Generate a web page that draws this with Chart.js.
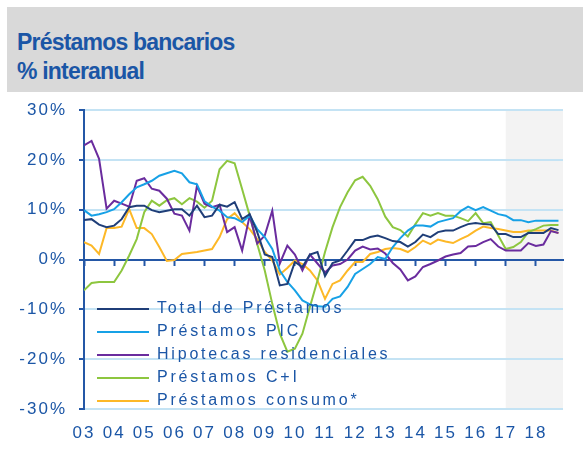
<!DOCTYPE html>
<html>
<head>
<meta charset="utf-8">
<script src="https://cdn.jsdelivr.net/npm/chart.js@4.4.1/dist/chart.umd.min.js"></script>
<style>
  body { margin: 0; background: #fff; }
  #wrap { position: relative; width: 583px; height: 456px; overflow: hidden; }
  #head { position: absolute; left: 7px; top: 7px; width: 576px; height: 85px; background: #d9d9d9; }
  .t { position: absolute; left: 17px; font: bold 23px Arial, "Liberation Sans", sans-serif; line-height: 23px;
       letter-spacing: -0.8px; color: #1b56a6; white-space: nowrap; }
  canvas { position: absolute; left: 0; top: 0; }
</style>
</head>
<body>
<div id="wrap">
  <div id="head"></div>
  <div class="t" style="top:31px">Préstamos bancarios</div>
  <div class="t" style="top:60px">% interanual</div>
  <canvas id="chart" width="583" height="456"></canvas>
</div>
<script>
// Quarterly series, first point 2003 Q1
const startYear = 2003;
const yearTicks = [2003, 2004, 2005, 2006, 2007, 2008, 2009, 2010, 2011, 2012, 2013, 2014, 2015, 2016, 2017, 2018];
const forecastFrom = 2017;

const seriesNames = ['Total de Préstamos', 'Préstamos PIC', 'Hipotecas residenciales', 'Préstamos C+I', 'Préstamos consumo*'];
const seriesColors = ['#1f3e78', '#17a1e6', '#6a2c9e', '#8dc63f', '#fdb827'];

const totalPrestamos = [
  7.9, 8.1, 7.0, 6.5, 6.8, 8.1, 10.5, 10.8, 10.8, 9.9, 9.5, 9.8, 10.1, 10.1, 8.8, 10.8,
  8.5, 8.8, 11.0, 10.6, 11.5, 8.1, 9.1, 5.5, 1.0, 0.5, -5.2, -4.9, -0.5, -1.5, 1.0, 1.5,
  -3.3, -0.7, -0.2, 1.8, 3.9, 3.9, 4.5, 4.8, 4.3, 3.7, 3.5, 2.6, 3.5, 5.0, 4.5, 5.5,
  5.8, 5.8, 6.5, 7.1, 7.3, 7.1, 7.0, 5.1, 5.1, 4.5, 4.5, 5.3, 5.3, 5.3, 6.3, 5.9
];
const prestamosPIC = [
  9.9, 8.8, 9.1, 9.5, 10.1, 11.5, 13.1, 14.5, 15.1, 15.8, 16.8, 17.3, 17.8, 17.3, 15.5, 15.1,
  11.7, 10.6, 9.8, 8.5, 8.3, 7.5, 8.8, 6.1, 4.5, 2.1, -2.2, -4.5, -6.2, -8.2, -9.0, -9.4,
  -9.5, -7.9, -7.4, -5.5, -2.9, -1.9, -0.9, 0.5, 0.1, 2.5, 4.3, 5.8, 6.8, 6.8, 6.6, 7.5,
  7.9, 8.3, 9.7, 10.6, 9.9, 10.5, 9.8, 9.1, 8.8, 7.9, 7.9, 7.5, 7.8, 7.8, 7.8, 7.8
];
const hipotecas = [
  22.9, 23.8, 20.2, 10.2, 11.8, 11.2, 10.6, 15.8, 16.3, 14.2, 13.8, 12.2, 9.2, 8.8, 5.8, 14.8,
  11.2, 10.5, 11.0, 5.5, 6.5, 1.8, 8.8, 3.2, 4.8, 9.8, -0.8, 2.8, 1.0, -2.2, 1.0, -0.8,
  -2.6, -1.2, -0.9, 0.0, 1.8, 2.6, 2.0, 2.2, 1.2, -0.7, -2.0, -4.2, -3.4, -1.5, -0.9, -0.2,
  0.6, 1.0, 1.3, 2.6, 2.7, 3.5, 4.1, 2.6, 1.8, 1.8, 1.8, 3.3, 2.7, 3.0, 5.7, 5.3
];
const prestamosCI = [
  -6.2, -4.7, -4.5, -4.5, -4.5, -2.2, 0.8, 4.1, 9.5, 11.8, 10.8, 11.9, 12.3, 11.1, 12.3, 11.6,
  10.4, 11.8, 18.1, 19.8, 19.3, 14.1, 8.8, 3.1, -2.2, -8.9, -14.9, -18.5, -17.9, -14.9, -9.5, -4.2,
  1.5, 6.5, 10.5, 13.5, 15.9, 16.6, 14.8, 12.1, 8.6, 6.5, 5.9, 4.6, 7.1, 9.3, 8.8, 9.3,
  8.8, 8.8, 8.3, 7.7, 9.3, 7.3, 7.5, 4.8, 2.1, 2.5, 3.5, 5.5, 6.1, 6.8, 6.9, 6.9
];
const prestamosConsumo = [
  3.5, 2.8, 1.1, 6.3, 6.3, 6.6, 10.1, 6.3, 6.3, 5.1, 2.5, -0.3, -0.1, 1.1, 1.3, 1.5,
  1.8, 2.1, 4.5, 8.1, 9.3, 7.5, 6.1, 4.1, 1.5, -0.2, -3.0, -1.7, -0.2, -0.9, -2.2, -4.2,
  -7.9, -4.9, -4.2, -2.2, -0.5, -0.5, 1.1, 1.5, 2.1, 2.3, 2.1, 1.5, 2.5, 3.8, 3.1, 4.0,
  3.6, 3.3, 4.1, 4.8, 5.8, 6.6, 6.3, 6.1, 5.8, 5.5, 5.5, 5.8, 5.8, 5.8, 5.8, 5.3
];

const allSeries = [totalPrestamos, prestamosPIC, hipotecas, prestamosCI, prestamosConsumo];

const axisBlue = '#2457a6';
const textBlue = '#1b56a6';
const gridBlue = '#c4e3f4';

function toPoints(values) {
  return values.map((v, i) => ({ x: startYear + i / 4, y: v }));
}

// grey band behind the last two years, legend moved inside the plot
const shadePlugin = {
  id: 'shade',
  beforeDraw(chart) {
    const { ctx, chartArea, scales } = chart;
    const x0 = scales.x.getPixelForValue(forecastFrom);
    ctx.save();
    ctx.fillStyle = '#f3f3f3';
    ctx.fillRect(x0, chartArea.top, chartArea.right - x0, chartArea.bottom - chartArea.top);
    ctx.restore();
    ctx.letterSpacing = '2px';
  },
  afterLayout(chart) {
    const lg = chart.legend;
    lg.left = 90; lg.top = 294;
    lg.right = chart.chartArea.right; lg.bottom = lg.top + 160;
    lg.width = lg.right - lg.left; lg.height = lg.bottom - lg.top;
    lg.adjustHitBoxes();
  },
  afterInit(chart) {
    const lg = chart.legend;
    const orig = lg.draw.bind(lg);
    lg.draw = function () {
      const ctx = this.ctx;
      ctx.save();
      ctx.letterSpacing = '2.8px';
      orig();
      ctx.restore();
    };
    // text goes over the lines, as in the source
    lg._layers = () => [{ z: 1, draw: () => lg.draw() }];
  },
  afterDraw(chart) {
    chart.ctx.letterSpacing = '0px';
  }
};

new Chart(document.getElementById('chart'), {
  type: 'line',
  data: {
    datasets: allSeries.map((vals, k) => ({
      label: seriesNames[k],
      data: toPoints(vals),
      borderColor: seriesColors[k],
      backgroundColor: seriesColors[k],
      borderWidth: 2,
      pointRadius: 0,
      tension: 0,
      fill: false
    }))
  },
  options: {
    responsive: false,
    devicePixelRatio: 1,
    animation: false,
    layout: { padding: { left: 0, right: 20, top: 110, bottom: 0 } },
    plugins: {
      title: { display: false },
      tooltip: { enabled: false },
      legend: {
        position: 'chartArea',
        align: 'start',
        labels: {
          usePointStyle: true,
          pointStyle: 'line',
          pointStyleWidth: 52,
          boxHeight: 16,
          padding: 7,
          color: textBlue,
          font: { family: 'Arial, "Liberation Sans", sans-serif', size: 16 }
        }
      }
    },
    scales: {
      x: {
        type: 'linear',
        position: { y: 0 },
        min: 2003,
        max: 2018.9,
        afterBuildTicks(scale) { scale.ticks = yearTicks.map(v => ({ value: v })); },
        ticks: { display: false },
        grid: { drawOnChartArea: false, drawTicks: true, tickLength: 5, tickColor: axisBlue, tickWidth: 2 },
        border: { display: true, color: axisBlue, width: 2 }
      },
      xl: {
        type: 'linear',
        position: 'bottom',
        min: 2003,
        max: 2018.9,
        afterBuildTicks(scale) { scale.ticks = yearTicks.map(v => ({ value: v })); },
        afterFit(scale) { scale.height = 47; },
        ticks: {
          autoSkip: false,
          maxRotation: 0,
          padding: 14,
          color: textBlue,
          font: { family: 'Arial, "Liberation Sans", sans-serif', size: 17 },
          callback: v => String(v).slice(2)
        },
        grid: { display: false, drawTicks: false },
        border: { display: false }
      },
      y: {
        min: -30,
        max: 30,
        afterFit(scale) { scale.width = 84; },
        ticks: {
          stepSize: 10,
          padding: 12,
          color: textBlue,
          font: { family: 'Arial, "Liberation Sans", sans-serif', size: 17 },
          callback: v => v + '%'
        },
        grid: { color: gridBlue, lineWidth: 2, tickColor: axisBlue, tickLength: 5, tickWidth: 2 },
        border: { display: true, color: axisBlue, width: 2 }
      }
    }
  },
  plugins: [shadePlugin]
});
</script>
</body>
</html>
